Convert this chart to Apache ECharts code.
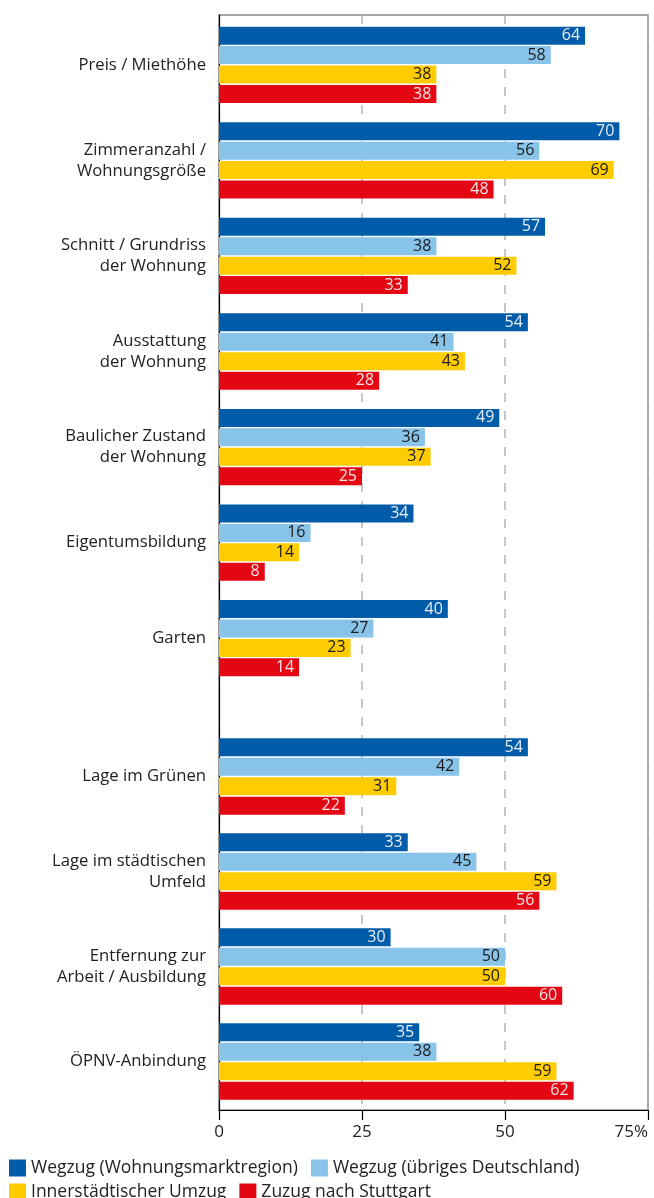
<!DOCTYPE html>
<html>
<head>
<meta charset="utf-8">
<title>Wohnungsmerkmale</title>
<script src="https://cdn.jsdelivr.net/npm/echarts@6.0.0/dist/echarts.min.js"></script>
<style>
    html, body { margin: 0; padding: 0; background: #fff; }
    #chart { width: 654px; height: 1198px; }
</style>
</head>
<body>
<div id="chart"></div>
<script>
    // Kategorien: oberer Block (Wohnung) und unterer Block (Lage)
    var catTop = ['Preis / Miethöhe', 'Zimmeranzahl /\nWohnungsgröße', 'Schnitt / Grundriss\nder Wohnung',
        'Ausstattung\nder Wohnung', 'Baulicher Zustand\nder Wohnung', 'Eigentumsbildung', 'Garten'];
    var catBottom = ['Lage im Grünen', 'Lage im städtischen\nUmfeld', 'Entfernung zur\nArbeit / Ausbildung', 'ÖPNV-Anbindung'];

    var seriesNames = ['Wegzug (Wohnungsmarktregion)', 'Wegzug (übriges Deutschland)', 'Innerstädtischer Umzug', 'Zuzug nach Stuttgart'];

    // Werte in %, Reihenfolge wie catTop + catBottom
    var wegzugRegion  = [64, 70, 57, 54, 49, 34, 40, 54, 33, 30, 35];
    var wegzugDeutsch = [58, 56, 38, 41, 36, 16, 27, 42, 45, 50, 38];
    var innerUmzug    = [38, 69, 52, 43, 37, 14, 23, 31, 59, 50, 59];
    var zuzugStgt     = [38, 48, 33, 28, 25,  8, 14, 22, 56, 60, 62];

    var xTicks = [0, 25, 50, 75];

    var colors = ['#005ca9', '#88c3ea', '#ffcc00', '#e30613'];
    var labelColors = ['#e8eef6', '#1a1a1a', '#1a1a1a', '#f4e6e6'];
    var font = 'Open Sans';

    var values = [wegzugRegion, wegzugDeutsch, innerUmzug, zuzugStgt];
    var nTop = catTop.length;

    var series = [];
    for (var g = 0; g < 2; g++) {
        for (var i = 0; i < 4; i++) {
            series.push({
                name: seriesNames[i],
                type: 'bar',
                xAxisIndex: g + 1,
                yAxisIndex: g + 1,
                data: g == 0 ? values[i].slice(0, nTop) : values[i].slice(nTop),
                barWidth: 18,
                barGap: '8%',
                itemStyle: { color: colors[i] },
                label: {
                    show: true,
                    position: 'insideRight',
                    distance: 5,
                    color: labelColors[i],
                    fontFamily: font,
                    fontSize: 16
                }
            });
        }
    }

    function barYAxis(gridIndex, cats) {
        return {
            type: 'category',
            gridIndex: gridIndex,
            data: cats,
            inverse: true,
            axisLine: { show: false },
            axisTick: { show: false },
            axisLabel: {
                margin: 13,
                fontFamily: font,
                fontSize: 16.7,
                lineHeight: 21,
                color: '#222',
                align: 'right'
            }
        };
    }

    function barXAxis(gridIndex) {
        return { type: 'value', gridIndex: gridIndex, min: 0, max: 75, show: false };
    }

    function legendRow(names, top) {
        return {
            data: names,
            left: 4, top: top,
            icon: 'rect', itemWidth: 17, itemHeight: 17, itemGap: 13,
            textStyle: { fontFamily: font, fontSize: 17.5, color: '#222' }
        };
    }

    var chart = echarts.init(document.getElementById('chart'));
    chart.setOption({
        animation: false,
        color: colors,
        grid: [
            // Rahmen mit Achse und Hilfslinien
            { left: 219, top: 15, width: 429, height: 1095, show: true, borderColor: '#8a8a8a', borderWidth: 1.5 },
            { left: 219, top: 17, width: 429, height: 669 },
            { left: 219, top: 729, width: 429, height: 380 }
        ],
        xAxis: [
            {
                type: 'value',
                gridIndex: 0,
                min: xTicks[0],
                max: xTicks[xTicks.length - 1],
                interval: 25,
                axisLine: { show: true, lineStyle: { color: '#000', width: 1.2 } },
                axisTick: { show: true, length: 10, lineStyle: { color: '#000', width: 1.2 } },
                axisLabel: {
                    margin: 14,
                    fontFamily: font,
                    fontSize: 17,
                    color: '#222',
                    alignMaxLabel: 'right',
                    formatter: function (v) { return v == 75 ? v + '%' : v; }
                },
                splitLine: { show: true, lineStyle: { color: '#b4b4b4', width: 1.5, type: [9, 9] } }
            },
            barXAxis(1),
            barXAxis(2)
        ],
        yAxis: [
            {
                type: 'value',
                gridIndex: 0,
                axisLine: { show: true, lineStyle: { color: '#000', width: 1.2 } },
                axisTick: { show: false },
                axisLabel: { show: false },
                splitLine: { show: false }
            },
            barYAxis(1, catTop),
            barYAxis(2, catBottom)
        ],
        legend: [
            legendRow(seriesNames.slice(0, 2), 1154),
            legendRow(seriesNames.slice(2), 1178)
        ],
        series: series
    });
</script>
</body>
</html>
